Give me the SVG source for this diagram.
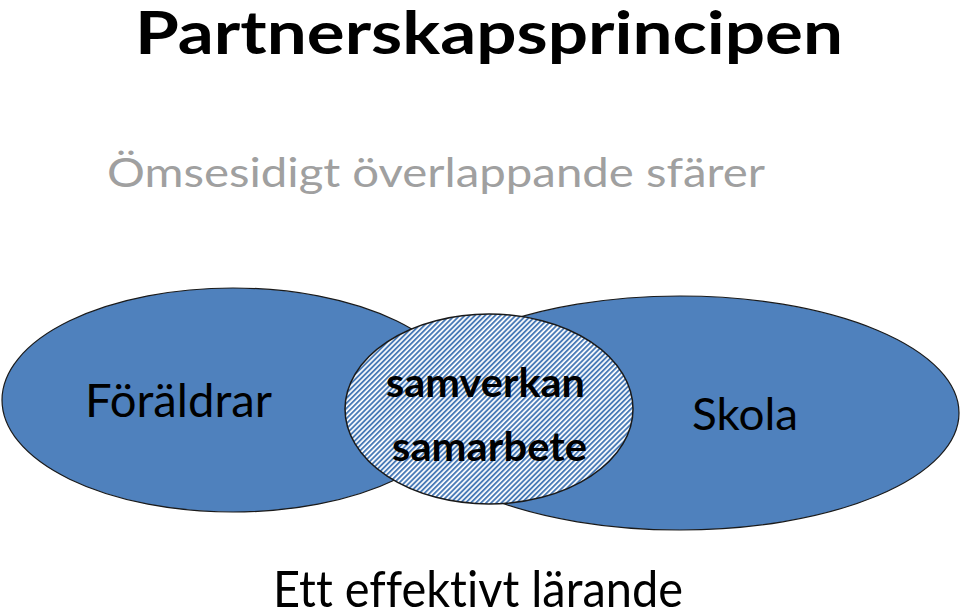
<svg xmlns="http://www.w3.org/2000/svg" width="960" height="614" viewBox="0 0 960 614">
<style>
.t{font-family:Lato,"Open Sans","Liberation Sans",sans-serif;fill:#000;font-variant-ligatures:none;font-feature-settings:"liga" 0,"clig" 0}
.b{font-weight:bold}
.sph{fill:#4f81bd;stroke:#1a1a1a;stroke-width:1.2}
</style>
<defs>
<pattern id="hatch" patternUnits="userSpaceOnUse" width="3.6" height="10" patternTransform="rotate(45)">
<rect width="3.6" height="10" fill="#ffffff"/>
<rect width="1.9" height="10" fill="#4a7bb7"/>
</pattern>
</defs>
<rect width="960" height="614" fill="#fff"/>
<text class="t b" x="135" y="54" font-size="60" textLength="708" lengthAdjust="spacingAndGlyphs">Partnerskapsprincipen</text>
<text class="t" x="107" y="187" font-size="41" style="fill:#a0a0a0" textLength="658" lengthAdjust="spacingAndGlyphs">Ömsesidigt överlappande sfärer</text>
<g id="foraldrar">
<ellipse class="sph" cx="233" cy="400" rx="231" ry="112"/>
<text class="t" x="85" y="417" font-size="46" textLength="187" lengthAdjust="spacingAndGlyphs">Föräldrar</text>
</g>
<g id="skola">
<ellipse class="sph" cx="680" cy="413" rx="279" ry="117"/>
<text class="t" x="692" y="430" font-size="45" textLength="106" lengthAdjust="spacingAndGlyphs">Skola</text>
</g>
<g id="samverkan">
<ellipse cx="489" cy="409" rx="144" ry="95" fill="url(#hatch)" stroke="#1a1a1a" stroke-width="1.5"/>
<text class="t b" x="386" y="397" font-size="40" textLength="199" lengthAdjust="spacingAndGlyphs">samverkan</text>
<text class="t b" x="392" y="461" font-size="40" textLength="195" lengthAdjust="spacingAndGlyphs">samarbete</text>
</g>
<g id="connectors"/>
<text class="t" x="273" y="607" font-size="50" textLength="410" lengthAdjust="spacingAndGlyphs">Ett effektivt lärande</text>
</svg>
